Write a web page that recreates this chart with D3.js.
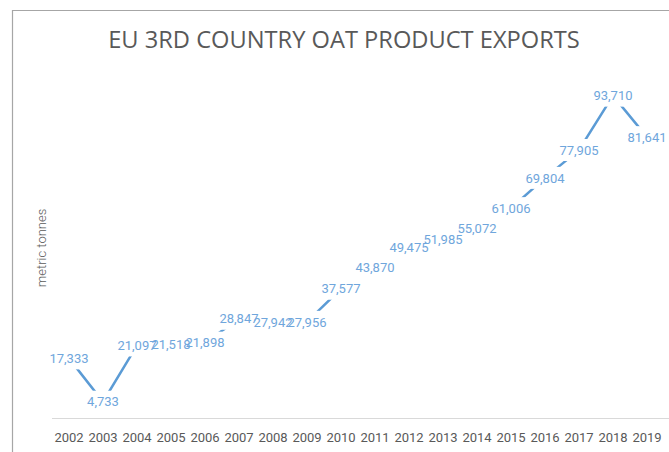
<!DOCTYPE html>
<html>
<head>
<meta charset="utf-8">
<script src="https://cdn.jsdelivr.net/npm/d3@7"></script>
<style>
  body { margin: 0; background: #fff; }
  svg { display: block; }
</style>
</head>
<body>
<div id="chart"></div>
<script>
// Chart data.
var years   = ["2002", "2003", "2004", "2005", "2006", "2007", "2008", "2009", "2010",
               "2011", "2012", "2013", "2014", "2015", "2016", "2017", "2018", "2019"];
var exports = [17333, 4733, 21097, 21518, 21898, 28847, 27942, 27956, 37577,
               43870, 49475, 51985, 55072, 61006, 69804, 77905, 93710, 81641];
var yDomain = [0, 100000];

var width  = 669,
    height = 452;
var plot = { left: 52, right: 664, top: 74, bottom: 418 };

var svg = d3.select("#chart").append("svg")
    .attr("width", width)
    .attr("height", height);

// Chart frame (only top and left edges are visible in the crop).
svg.append("path")
    .attr("d", "M12.5," + height + "V10.5H" + width)
    .attr("fill", "none")
    .attr("stroke", "#a6a6a6")
    .attr("stroke-width", 1.2);

// Title, fitted to the width it has in the reference.
var title = svg.append("text")
    .attr("x", 344)
    .attr("y", 48)
    .attr("text-anchor", "middle")
    .attr("font-family", "'Open Sans', sans-serif")
    .attr("font-size", 25)
    .attr("fill", "#595959")
    .text("EU 3RD COUNTRY OAT PRODUCT EXPORTS");
var tw = title.node().getComputedTextLength();
title.attr("font-size", 25 * 472 / tw);

var x = d3.scaleBand().domain(years).range([plot.left, plot.right]);
var y = d3.scaleLinear().domain(yDomain).range([plot.bottom, plot.top]);

// Category axis.
var xAxis = svg.append("g")
    .attr("transform", "translate(0," + plot.bottom + ")")
    .call(d3.axisBottom(x).tickSize(0).tickPadding(15));
xAxis.select(".domain").attr("stroke", "#d9d9d9").attr("stroke-width", 1.2)
    .attr("d", "M" + plot.left + ",0.5H" + width);
xAxis.selectAll("text")
    .attr("font-family", "Roboto, sans-serif")
    .attr("font-size", 13)
    .attr("fill", "#595959");

// Axis title.
svg.append("text")
    .attr("transform", "translate(46,248) rotate(-90)")
    .attr("text-anchor", "middle")
    .attr("font-family", "Roboto, sans-serif")
    .attr("font-size", 13)
    .attr("font-weight", 300)
    .attr("fill", "#595959")
    .text("metric tonnes");

// Line.
var line = d3.line()
    .x(function(d, i) { return x(years[i]) + x.bandwidth() / 2; })
    .y(function(d) { return y(d); });

svg.append("path")
    .datum(exports)
    .attr("d", line)
    .attr("fill", "none")
    .attr("stroke", "#5b9bd5")
    .attr("stroke-width", 2.5);

// Data labels centred on the points, white boxes cut the line.
var labels = svg.append("g");
var fmt = d3.format(",");
var boxes = labels.selectAll("rect").data(exports).enter().append("rect");
var texts = labels.selectAll("text").data(exports).enter().append("text")
    .attr("x", function(d, i) { return x(years[i]) + x.bandwidth() / 2; })
    .attr("y", function(d) { return y(d); })
    .attr("dy", "0.36em")
    .attr("text-anchor", "middle")
    .attr("font-family", "Roboto, sans-serif")
    .attr("font-size", 13)
    .attr("fill", "#6fa6dc")
    .text(function(d) { return fmt(d); });

texts.each(function(d, i) {
    var w = this.getComputedTextLength();
    d3.select(boxes.nodes()[i])
        .attr("x", x(years[i]) + x.bandwidth() / 2 - w / 2 - 3)
        .attr("y", y(d) - 11)
        .attr("width", w + 6)
        .attr("height", 22)
        .attr("fill", "#fff");
});
</script>
</body>
</html>
